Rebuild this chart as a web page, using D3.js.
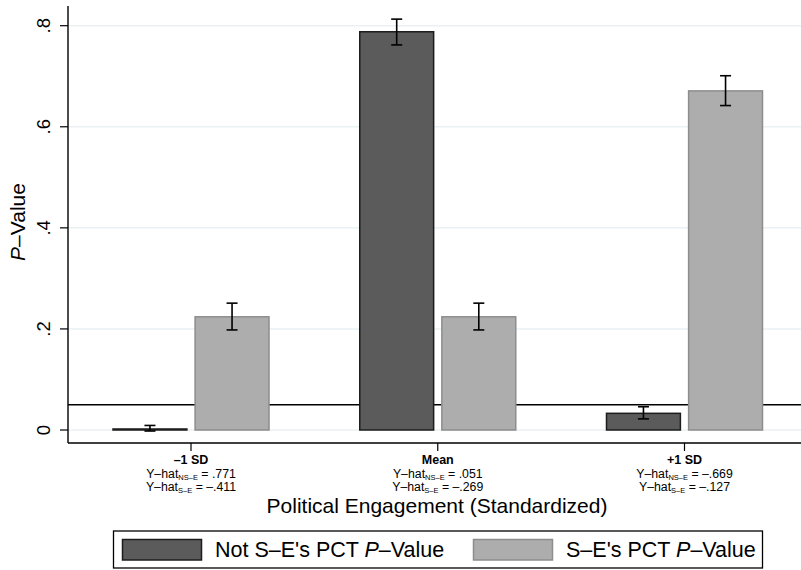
<!DOCTYPE html>
<html>
<head>
<meta charset="utf-8">
<script src="https://cdn.jsdelivr.net/npm/d3@7"></script>
<style>
  html, body { margin: 0; padding: 0; background: #fff; }
  svg { display: block; font-family: "Liberation Sans", Arial, Helvetica, sans-serif; }
</style>
</head>
<body>
<svg id="chart" width="801" height="570"></svg>
<script>
// Groups along the x axis
const categories = ["–1 SD", "Mean", "+1 SD"];
// Predicted values printed under each group
const yhatNSE = [".771", ".051", "–.669"];
const yhatSE = ["–.411", "–.269", "–.127"];

// Series: p-values with confidence bounds
const seriesNames = ["Not S–E's PCT", "S–E's PCT"];
const notSE = [0.002, 0.788, 0.033];
const notSELo = [-0.002, 0.762, 0.022];
const notSEHi = [0.009, 0.813, 0.046];
const se = [0.224, 0.224, 0.671];
const seLo = [0.198, 0.198, 0.642];
const seHi = [0.251, 0.251, 0.701];

const yTicks = [0, 0.2, 0.4, 0.6, 0.8];
const yTickLabels = ["0", ".2", ".4", ".6", ".8"];
const threshold = 0.05;

const svg = d3.select("#chart");

const plotLeft = 68, plotRight = 801, plotTop = 6, plotBottom = 443;

const y = d3.scaleLinear().domain([0, 0.8]).range([430, 25.7]);
const x0 = d3.scalePoint().domain(categories).range([191, 684.5]);
const x1 = d3.scaleBand().domain(seriesNames).range([-78, 78]).paddingInner(0.1);

const fills = ["#5b5b5b", "#adadad"];
const strokes = ["#1c1c1c", "#8d8d8d"];

// Gridlines
svg.append("g").selectAll("line").data(yTicks).join("line")
  .attr("x1", plotLeft).attr("x2", plotRight)
  .attr("y1", d => y(d)).attr("y2", d => y(d))
  .attr("stroke", "#eaf1f3").attr("stroke-width", 1.5);

// Reference line at p = .05
svg.append("line")
  .attr("x1", plotLeft).attr("x2", plotRight)
  .attr("y1", y(threshold)).attr("y2", y(threshold))
  .attr("stroke", "#000").attr("stroke-width", 1.6);

// Bars and error bars
const rows = categories.map((c, i) => [
  { cat: c, s: 0, name: seriesNames[0], v: notSE[i], lo: notSELo[i], hi: notSEHi[i] },
  { cat: c, s: 1, name: seriesNames[1], v: se[i], lo: seLo[i], hi: seHi[i] }
]).flat();

const g = svg.append("g");
g.selectAll("rect").data(rows).join("rect")
  .attr("x", d => x0(d.cat) + x1(d.name))
  .attr("width", x1.bandwidth())
  .attr("y", d => y(d.v))
  .attr("height", d => Math.max(0, y(0) - y(d.v)))
  .attr("fill", d => fills[d.s])
  .attr("stroke", d => strokes[d.s])
  .attr("stroke-width", 1.5);

const capW = 11;
const eb = svg.append("g").attr("stroke", "#000").attr("stroke-width", 1.6);
rows.forEach(d => {
  const cx = x0(d.cat) + x1(d.name) + x1.bandwidth() / 2;
  eb.append("line").attr("x1", cx).attr("x2", cx).attr("y1", y(d.hi)).attr("y2", y(d.lo));
  eb.append("line").attr("x1", cx - capW / 2).attr("x2", cx + capW / 2).attr("y1", y(d.hi)).attr("y2", y(d.hi));
  eb.append("line").attr("x1", cx - capW / 2).attr("x2", cx + capW / 2).attr("y1", y(d.lo)).attr("y2", y(d.lo));
});

// Y axis
const yAxis = svg.append("g");
yAxis.append("line").attr("x1", plotLeft).attr("x2", plotLeft)
  .attr("y1", plotTop).attr("y2", plotBottom).attr("stroke", "#000").attr("stroke-width", 1.4);
yAxis.selectAll("line.t").data(yTicks).join("line").attr("class", "t")
  .attr("x1", plotLeft - 8).attr("x2", plotLeft)
  .attr("y1", d => y(d)).attr("y2", d => y(d))
  .attr("stroke", "#000").attr("stroke-width", 1.2);
yAxis.selectAll("text").data(yTicks).join("text")
  .attr("transform", d => `translate(50,${y(d)}) rotate(-90)`)
  .attr("text-anchor", "middle")
  .attr("font-size", 18.5)
  .attr("fill", "#000")
  .text((d, i) => yTickLabels[i]);

// Y axis title
const yt = svg.append("text")
  .attr("transform", "translate(25,222) rotate(-90)")
  .attr("text-anchor", "middle").attr("font-size", 21).attr("fill", "#000");
yt.append("tspan").attr("font-style", "italic").text("P");
yt.append("tspan").text("–Value");

// X axis
const xAxis = svg.append("g");
xAxis.append("line").attr("x1", plotLeft).attr("x2", plotRight)
  .attr("y1", plotBottom).attr("y2", plotBottom).attr("stroke", "#000").attr("stroke-width", 1.4);
xAxis.selectAll("line.t").data(categories).join("line").attr("class", "t")
  .attr("x1", d => x0(d)).attr("x2", d => x0(d))
  .attr("y1", plotBottom).attr("y2", plotBottom + 8)
  .attr("stroke", "#000").attr("stroke-width", 1.2);

categories.forEach((c, i) => {
  const cx = x0(c);
  xAxis.append("text").attr("x", cx).attr("y", 464)
    .attr("text-anchor", "middle").attr("font-size", 12.5).attr("font-weight", "bold")
    .text(c);
  const l2 = xAxis.append("text").attr("x", cx).attr("y", 477.5)
    .attr("text-anchor", "middle").attr("font-size", 12.3);
  l2.append("tspan").text("Y–hat");
  l2.append("tspan").attr("font-size", 7.5).attr("dy", 2).text("NS–E");
  l2.append("tspan").attr("dy", -2).text(" = " + yhatNSE[i]);
  const l3 = xAxis.append("text").attr("x", cx).attr("y", 491)
    .attr("text-anchor", "middle").attr("font-size", 12.3);
  l3.append("tspan").text("Y–hat");
  l3.append("tspan").attr("font-size", 7.5).attr("dy", 2).text("S–E");
  l3.append("tspan").attr("dy", -2).text(" = " + yhatSE[i]);
});

// X axis title
svg.append("text").attr("x", 437).attr("y", 513)
  .attr("text-anchor", "middle").attr("font-size", 21).attr("fill", "#000")
  .text("Political Engagement (Standardized)");

// Legend
const leg = svg.append("g");
leg.append("rect").attr("x", 113.5).attr("y", 531).attr("width", 649).attr("height", 37)
  .attr("fill", "#fff").attr("stroke", "#000").attr("stroke-width", 1.3);
const legX = [122.5, 473.5];
seriesNames.forEach((n, i) => {
  leg.append("rect").attr("x", legX[i]).attr("y", 539.5).attr("width", 79).attr("height", 20.5)
    .attr("fill", fills[i]).attr("stroke", strokes[i]).attr("stroke-width", 1.5);
  const t = leg.append("text").attr("x", legX[i] + 92.5).attr("y", 557)
    .attr("font-size", 21.5).attr("fill", "#000");
  t.append("tspan").text(n + " ");
  t.append("tspan").attr("font-style", "italic").text("P");
  t.append("tspan").text("–Value");
});
</script>
</body>
</html>
